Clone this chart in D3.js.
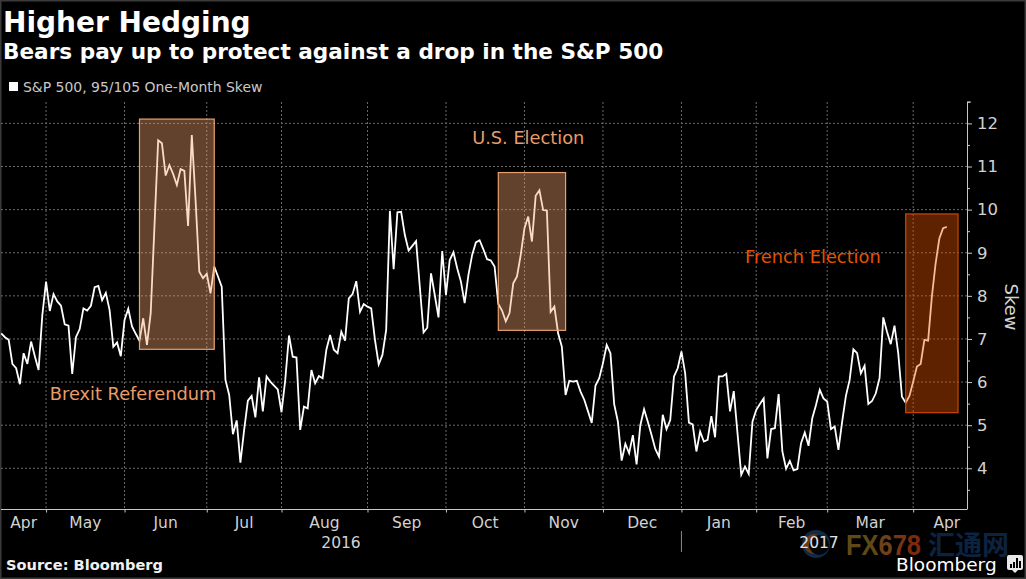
<!DOCTYPE html>
<html>
<head>
<meta charset="utf-8">
<script src="https://cdn.jsdelivr.net/npm/d3@7"></script>
<style>
html, body { margin: 0; padding: 0; background: #000; overflow: hidden; }
text { font-family: "DejaVu Sans", sans-serif; }
</style>
</head>
<body>
<script>
// one value per trading day, from mid April 2016 to mid April 2017
const skew = [
    7.13, 7.04, 6.98, 6.42, 6.32, 5.95, 6.67, 6.42, 6.94, 6.6, 6.28, 7.55,
    8.33, 7.65, 8.04, 7.87, 7.77, 7.34, 7.31, 6.19, 7.04, 7.23, 7.71, 7.66, 7.77, 8.2, 8.23, 7.9, 8.07, 7.67, 6.82, 6.92, 6.6,
    7.44, 7.7, 7.29, 7.12, 6.96, 7.48, 6.86, 7.6, 9.6, 11.61, 11.54, 10.79, 11.03, 10.83, 10.57, 10.94, 10.9, 9.62, 11.73, 10.22, 8.56, 8.41,
    8.51, 8.06, 8.68, 8.45, 8.21, 6.05, 5.7, 4.79, 5.11, 4.13, 4.89, 5.57, 5.68, 5.18, 6.11, 5.32, 6.13, 6.01, 5.92, 5.83,
    5.3, 6.05, 7.08, 6.59, 6.57, 4.89, 5.43, 5.39, 6.28, 5.97, 6.14, 6.09, 6.75, 7.09, 6.75, 6.67, 7.17, 6.96, 7.94, 8.04, 8.34, 7.63, 7.81,
    7.75, 7.71, 6.98, 6.41, 6.63, 7.21, 9.97, 8.62, 9.94, 9.95, 9.41, 9.05, 9.16, 9.27, 8.21, 7.15, 7.26, 8.52, 8.02, 7.5, 9.04,
    8.02, 8.83, 9.01, 8.64, 8.33, 7.83, 8.48, 8.95, 9.24, 9.29, 9.08, 8.85, 8.82, 8.68, 7.81, 7.66, 7.41, 7.6, 8.29, 8.45, 8.95,
    9.57, 9.84, 9.26, 10.32, 10.45, 9.99, 9.98, 7.63, 7.75, 7.13, 6.82, 5.7, 6.03, 6.01, 6.03, 5.78, 5.59, 5.32, 5.05, 5.92, 6.09,
    6.44, 6.86, 6.67, 5.49, 5.08, 4.18, 4.57, 4.35, 4.77, 4.09, 5.0, 5.37, 5.08, 4.77, 4.45, 4.27, 5.24, 4.91, 5.12, 6.13, 6.32,
    6.71, 6.2, 5.06, 5.02, 4.39, 4.85, 4.62, 4.66, 5.21, 4.72, 6.13, 6.13, 6.19, 5.32, 5.79, 4.81, 3.85, 4.04, 3.87, 5.08,
    5.35, 5.49, 5.62, 4.23, 4.91, 4.93, 5.72, 4.39, 3.99, 4.17, 3.95, 3.98, 4.58, 4.83, 4.52, 5.16, 5.47, 5.82, 5.62,
    5.55, 4.91, 4.97, 4.43, 5.08, 5.68, 6.05, 6.76, 6.67, 6.2, 6.38, 5.49, 5.56, 5.74, 6.09, 7.5, 7.17, 6.88, 7.31, 6.67, 5.66, 5.52, 5.68,
    6.01, 6.36, 6.42, 6.98, 6.96, 7.98, 8.75, 9.33, 9.57, 9.6
]

const monthLabels = ["Apr", "May", "Jun", "Jul", "Aug", "Sep", "Oct", "Nov", "Dec", "Jan", "Feb", "Mar", "Apr"]
const monthEdges = [0, 12, 33, 55, 75, 98, 119, 140, 161, 182, 202, 221, 244, 262]
const yTicks = [4, 5, 6, 7, 8, 9, 10, 11, 12]
const yMinorTicks = [3.5, 4.5, 5.5, 6.5, 7.5, 8.5, 9.5, 10.5, 11.5, 12.5]

const bandNames = ["Brexit", "US", "French"]
const bandDays = [[37, 57], [133, 151], [242, 256]]
const bandRanges = [[6.76, 12.1], [7.2, 10.86], [5.29, 9.9]]
const bandFills = ["#f4a470", "#f4a470", "#ea5600"]
const bandLines = ["#e8a070", "#e8a070", "#c94a00"]

const noteTexts = ["Brexit Referendum", "U.S. Election", "French Election"]
const noteDays = [13, 126, 199]
const noteValues = [5.58, 11.52, 8.77]
const noteColors = ["#ea9c68", "#ea9c68", "#e65100"]

const width = 1026
const height = 579

const x = d3.scaleLinear().domain([0, 258.4]).range([1.2, 967])
const y = d3.scaleLinear().domain([4, 12]).range([468.3, 123.4])

const canvas = d3.select("body")
                .append("svg")
                .attr("width", width)
                .attr("height", height)
                .style("display", "block")
                .style("background", "#000")

// frame
canvas.append("rect")
        .attr("x", 0.5)
        .attr("y", 0.5)
        .attr("width", width - 1)
        .attr("height", height - 1)
        .attr("fill", "none")
        .attr("stroke", "#3a3a3a")
        .attr("stroke-width", 2)

// title block
canvas.append("text")
        .attr("x", 3)
        .attr("y", 32)
        .attr("font-size", 28)
        .attr("font-weight", "bold")
        .attr("fill", "#fff")
        .text("Higher Hedging")

canvas.append("text")
        .attr("x", 3)
        .attr("y", 59)
        .attr("font-size", 21.6)
        .attr("font-weight", "bold")
        .attr("fill", "#fff")
        .text("Bears pay up to protect against a drop in the S&P 500")

canvas.append("rect")
        .attr("x", 9)
        .attr("y", 82)
        .attr("width", 9)
        .attr("height", 9)
        .attr("fill", "#fff")

canvas.append("text")
        .attr("x", 23)
        .attr("y", 92)
        .attr("font-size", 13.95)
        .attr("fill", "#c8c8c8")
        .text("S&P 500, 95/105 One-Month Skew")

// grid
const gGrid = canvas.append("g")
                .attr("fill", "none")
                .attr("stroke", "#6a6a6a")
                .attr("stroke-width", 1)
                .attr("stroke-dasharray", "2,2")

gGrid.selectAll(".gridY")
        .data(yTicks)
        .join("line")
        .attr("class", "gridY")
        .attr("x1", 1)
        .attr("x2", x.range()[1])
        .attr("y1", d => y(d))
        .attr("y2", d => y(d))

gGrid.selectAll(".gridX")
        .data(monthEdges.slice(1, -1))
        .join("line")
        .attr("class", "gridX")
        .attr("x1", d => x(d))
        .attr("x2", d => x(d))
        .attr("y1", 102)
        .attr("y2", 509)

// axes
const yAxis = canvas.append("g")
                .attr("transform", `translate(${x.range()[1]},0)`)
                .call(d3.axisRight(y).tickValues(yTicks).tickSize(5).tickPadding(5).tickFormat(d3.format("d")))

const yMinor = canvas.append("g")
                .attr("transform", `translate(${x.range()[1]},0)`)
                .call(d3.axisRight(y).tickValues(yMinorTicks).tickSize(3).tickFormat(""))

yAxis.selectAll(".domain").remove()
yMinor.selectAll(".domain").remove()
yAxis.selectAll("line").attr("stroke", "#c8c8c8")
yMinor.selectAll("line").attr("stroke", "#c8c8c8")
yAxis.selectAll("text")
        .attr("font-size", 16.5)
        .attr("fill", "#d2d2d2")
        .style("font-family", '"DejaVu Sans", sans-serif')

canvas.append("line")
        .attr("x1", x.range()[1] + 0.5)
        .attr("x2", x.range()[1] + 0.5)
        .attr("y1", 102)
        .attr("y2", 509.5)
        .attr("stroke", "#c8c8c8")

canvas.append("line")
        .attr("x1", x.range()[1])
        .attr("x2", x.range()[1] + 4)
        .attr("y1", 102)
        .attr("y2", 102)
        .attr("stroke", "#c8c8c8")

const xAxis = canvas.append("g")
                .attr("transform", "translate(0,509.5)")
                .call(d3.axisBottom(x).tickValues(monthEdges.slice(1, -1)).tickSize(3).tickFormat(""))

xAxis.selectAll(".domain").remove()
xAxis.selectAll("line").attr("stroke", "#c8c8c8")

canvas.append("line")
        .attr("x1", 1)
        .attr("x2", x.range()[1])
        .attr("y1", 509.5)
        .attr("y2", 509.5)
        .attr("stroke", "#c8c8c8")

canvas.selectAll(".month")
        .data(monthLabels)
        .join("text")
        .attr("class", "month")
        .attr("x", (d, i) => (x(monthEdges[i]) + x(monthEdges[i + 1])) / 2)
        .attr("y", 528)
        .attr("text-anchor", "middle")
        .attr("font-size", 15.5)
        .attr("fill", "#d2d2d2")
        .text(d => d)

// watermark sits below the year label
const gMark = canvas.append("g")

gMark.append("circle")
        .attr("cx", 816)
        .attr("cy", 544)
        .attr("r", 14)
        .attr("fill", "#102a48")

gMark.append("circle")
        .attr("cx", 814)
        .attr("cy", 544)
        .attr("r", 10)
        .attr("fill", "#6b3a14")

gMark.append("circle")
        .attr("cx", 819)
        .attr("cy", 545)
        .attr("r", 10)
        .attr("fill", "#050505")

gMark.append("text")
        .attr("x", 846)
        .attr("y", 555)
        .attr("font-size", 30)
        .attr("font-weight", "bold")
        .attr("textLength", 75)
        .attr("lengthAdjust", "spacingAndGlyphs")
        .style("font-family", '"Liberation Sans Narrow", "Liberation Sans", sans-serif')
        .selectAll("tspan")
        .data(["FX", "6", "7", "8"])
        .join("tspan")
        .attr("fill", (d, i) => ["#5f4a17", "#70401a", "#7a3414", "#7c2a0c"][i])
        .text(d => d)

gMark.append("text")
        .attr("x", 928)
        .attr("y", 555)
        .attr("font-size", 27)
        .attr("font-weight", "bold")
        .attr("fill", "#0c2340")
        .style("font-family", '"Noto Sans CJK SC", sans-serif')
        .text("汇通网")

canvas.append("text")
        .attr("x", 341)
        .attr("y", 548)
        .attr("text-anchor", "middle")
        .attr("font-size", 15.5)
        .attr("fill", "#d2d2d2")
        .text("2016")

canvas.append("text")
        .attr("x", 819)
        .attr("y", 548)
        .attr("text-anchor", "middle")
        .attr("font-size", 15.5)
        .attr("fill", "#e2e2e2")
        .text("2017")

canvas.append("line")
        .attr("x1", x(182))
        .attr("x2", x(182))
        .attr("y1", 531)
        .attr("y2", 552)
        .attr("stroke", "#8a8a8a")

// series
const line = d3.line()
                .x((d, i) => x(i))
                .y(d => y(d))

canvas.append("path")
        .datum(skew)
        .attr("d", line)
        .attr("fill", "none")
        .attr("stroke", "#fff")
        .attr("stroke-width", 1.8)
        .attr("stroke-linejoin", "miter")

// shaded event windows go over the line, so it tints through them
canvas.selectAll(".band")
        .data(bandNames)
        .join("rect")
        .attr("class", "band")
        .attr("x", (d, i) => x(bandDays[i][0]))
        .attr("width", (d, i) => x(bandDays[i][1]) - x(bandDays[i][0]))
        .attr("y", (d, i) => y(bandRanges[i][1]))
        .attr("height", (d, i) => y(bandRanges[i][0]) - y(bandRanges[i][1]))
        .attr("fill", (d, i) => bandFills[i])
        .attr("fill-opacity", 0.4)
        .attr("stroke", (d, i) => bandLines[i])
        .attr("stroke-width", 1.2)

canvas.selectAll(".note")
        .data(noteTexts)
        .join("text")
        .attr("class", "note")
        .attr("x", (d, i) => x(noteDays[i]))
        .attr("y", (d, i) => y(noteValues[i]))
        .attr("font-size", 17.8)
        .attr("fill", (d, i) => noteColors[i])
        .text(d => d)

canvas.append("text")
        .attr("transform", "translate(1005,307) rotate(90)")
        .attr("text-anchor", "middle")
        .attr("font-size", 18)
        .attr("fill", "#d2d2d2")
        .text("Skew")

// footer
canvas.append("text")
        .attr("x", 6)
        .attr("y", 570)
        .attr("font-size", 14.6)
        .attr("font-weight", "bold")
        .attr("fill", "#f0f0f0")
        .text("Source: Bloomberg")

canvas.append("text")
        .attr("x", 896)
        .attr("y", 571)
        .attr("font-size", 18.5)
        .attr("fill", "#fff")
        .text("Bloomberg")

const gLogo = canvas.append("g")

gLogo.append("path")
        .attr("d", "M1009 555h12a2 2 0 0 1 2 2v11a2 2 0 0 1 -2 2h-3l-3 3l-3 -3h-3a2 2 0 0 1 -2 -2v-11a2 2 0 0 1 2 -2z")
        .attr("fill", "#e8e8e8")

gLogo.selectAll("rect")
        .data([4, 6, 10, 7])
        .join("rect")
        .attr("x", (d, i) => 1010 + i * 3)
        .attr("y", d => 568 - d)
        .attr("width", 2)
        .attr("height", d => d)
        .attr("fill", "#000")
</script>
</body>
</html>
